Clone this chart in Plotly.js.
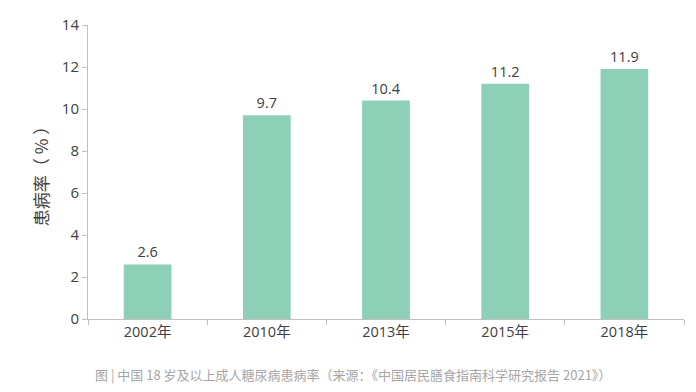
<!DOCTYPE html>
<html>
<head>
<meta charset="utf-8">
<script src="https://cdn.plot.ly/plotly-3.0.1.min.js"></script>
<style>html,body{margin:0;padding:0;background:#fff;}#chart{width:696px;height:392px;}</style>
</head>
<body>
<div id="chart"></div>
<script>
const categories = ["2002年", "2010年", "2013年", "2015年", "2018年"];
const values = [2.6, 9.7, 10.4, 11.2, 11.9];
const valueLabels = ["2.6", "9.7", "10.4", "11.2", "11.9"];
const yTicks = [0, 2, 4, 6, 8, 10, 12, 14];
const yTitle = "患病率（ % ）";
const caption = "图 | 中国 18 岁及以上成人糖尿病患病率（来源：《中国居民膳食指南科学研究报告 2021》）";

const font = "'Open Sans', 'Noto Sans CJK SC', sans-serif";
const cjk = "'Noto Sans CJK SC', sans-serif";

Plotly.newPlot("chart", [{
  type: "bar",
  x: categories,
  y: values,
  text: valueLabels,
  textposition: "outside",
  cliponaxis: false,
  textfont: {family: font, size: 14.5, color: "#404040"},
  marker: {color: "#8dcfb7"},
  width: 0.4,
  hoverinfo: "none"
}], {
  width: 696, height: 392,
  margin: {l: 88, r: 12, t: 25, b: 73},
  paper_bgcolor: "#fff", plot_bgcolor: "#fff",
  font: {family: font, color: "#404040"},
  showlegend: false,
  xaxis: {
    type: "category",
    showline: true, linecolor: "#bfbfbf", linewidth: 1,
    ticks: "outside", ticklen: 5, tickcolor: "#bfbfbf",
    tickson: "boundaries",
    tickfont: {family: font, size: 14.5, color: "#404040"},
    showgrid: false, zeroline: false
  },
  yaxis: {
    range: [0, 14],
    tickvals: yTicks,
    showline: true, linecolor: "#bfbfbf", linewidth: 1,
    ticks: "outside", ticklen: 5, tickcolor: "#bfbfbf",
    tickfont: {family: font, size: 15, color: "#404040"},
    showgrid: false, zeroline: false,
    title: {text: yTitle, font: {family: cjk, size: 17, color: "#404040"}, standoff: 8}
  },
  annotations: [{
    text: caption,
    xref: "paper", yref: "paper",
    x: 0.445, y: -0.19,
    xanchor: "center", yanchor: "middle",
    showarrow: false,
    font: {family: cjk, size: 13, color: "#a6a6a6"}
  }]
}, {staticPlot: true});
</script>
</body>
</html>
